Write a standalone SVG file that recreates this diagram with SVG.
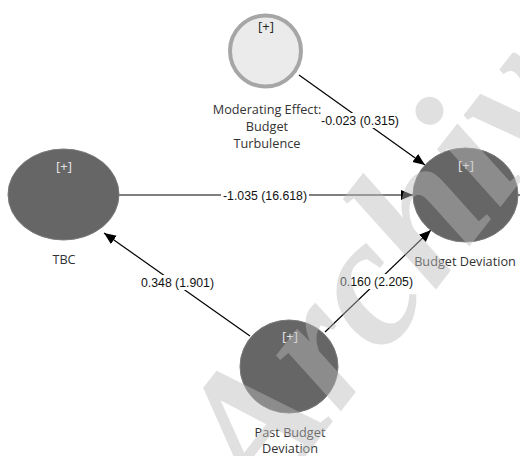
<svg xmlns="http://www.w3.org/2000/svg" width="520" height="456" viewBox="0 0 520 456">
<defs>
<marker id="arr" markerUnits="userSpaceOnUse" markerWidth="13" markerHeight="11" refX="12" refY="5" orient="auto">
<path d="M0,0 L12,5 L0,10 z" fill="#000"/>
</marker>
<style>
.lv{fill:#666666;stroke:#7a7a7a;stroke-width:1}
.mod{fill:#ebebeb;stroke:#a6a6a6;stroke-width:4}
.pl{font-family:"Open Sans","DejaVu Sans",sans-serif;font-size:13px;text-anchor:middle;fill:#e6e6e6}
.plm{font-family:"Open Sans","DejaVu Sans",sans-serif;font-size:13px;text-anchor:middle;fill:#222}
.nl{font-family:"Open Sans","DejaVu Sans",sans-serif;font-size:12.7px;text-anchor:middle;fill:#333}
.el{font-family:"Liberation Sans",Arial,sans-serif;font-size:12.5px;text-anchor:middle;fill:#111}
.cn{stroke:#000;stroke-width:1.2;fill:none;marker-end:url(#arr)}
.bg{fill:#fff}
.wm{font-family:"Liberation Serif","Times New Roman",serif;font-style:italic;font-weight:bold;font-size:186px;fill:#bbbbbb;fill-opacity:0.45}
</style>
</defs>
<rect width="520" height="456" fill="#fff"/>
<g id="connectors">
<line class="cn" x1="299" y1="75" x2="425" y2="165"/>
<line class="cn" x1="119" y1="195" x2="413" y2="195"/>
<line class="cn" x1="250" y1="336" x2="104" y2="233"/>
<line class="cn" x1="325" y1="332" x2="431" y2="230"/>
<line stroke="#000" stroke-width="1.2" x1="518" y1="195" x2="530" y2="195"/>
<rect class="bg" x="320" y="113" width="80" height="15"/>
<text class="el" x="360" y="125" textLength="78" lengthAdjust="spacingAndGlyphs">-0.023 (0.315)</text>
<rect class="bg" x="221" y="188" width="88" height="15"/>
<text class="el" x="265" y="200" textLength="84" lengthAdjust="spacingAndGlyphs">-1.035 (16.618)</text>
<rect class="bg" x="139" y="275" width="77" height="15"/>
<text class="el" x="177.5" y="287" textLength="73" lengthAdjust="spacingAndGlyphs">0.348 (1.901)</text>
<rect class="bg" x="338" y="274" width="77" height="15"/>
<text class="el" x="376.5" y="286" textLength="73" lengthAdjust="spacingAndGlyphs">0.160 (2.205)</text>
</g>
<g id="node-moderating">
<circle class="mod" cx="265.5" cy="51" r="35.5"/>
<text class="plm" x="266" y="31">[+]</text>
<text class="nl" x="267" y="114">Moderating Effect:</text>
<text class="nl" x="267" y="131">Budget</text>
<text class="nl" x="267" y="148">Turbulence</text>
</g>
<g id="node-tbc">
<ellipse class="lv" cx="63.5" cy="194.5" rx="55.5" ry="45.5"/>
<text class="pl" x="64" y="171">[+]</text>
<text class="nl" x="64" y="264">TBC</text>
</g>
<g id="node-budget-deviation">
<ellipse class="lv" cx="465.5" cy="195" rx="52.5" ry="47"/>
<text class="pl" x="466" y="170">[+]</text>
<text class="nl" x="465" y="266">Budget Deviation</text>
</g>
<g id="node-past-budget-deviation">
<ellipse class="lv" cx="289" cy="366.5" rx="49" ry="46.5"/>
<text class="pl" x="290" y="341">[+]</text>
<text class="nl" x="290" y="437">Past Budget</text>
<text class="nl" x="290" y="453">Deviation</text>
</g>
<text class="wm" transform="translate(262,512) rotate(-52)">Archive</text>
</svg>
